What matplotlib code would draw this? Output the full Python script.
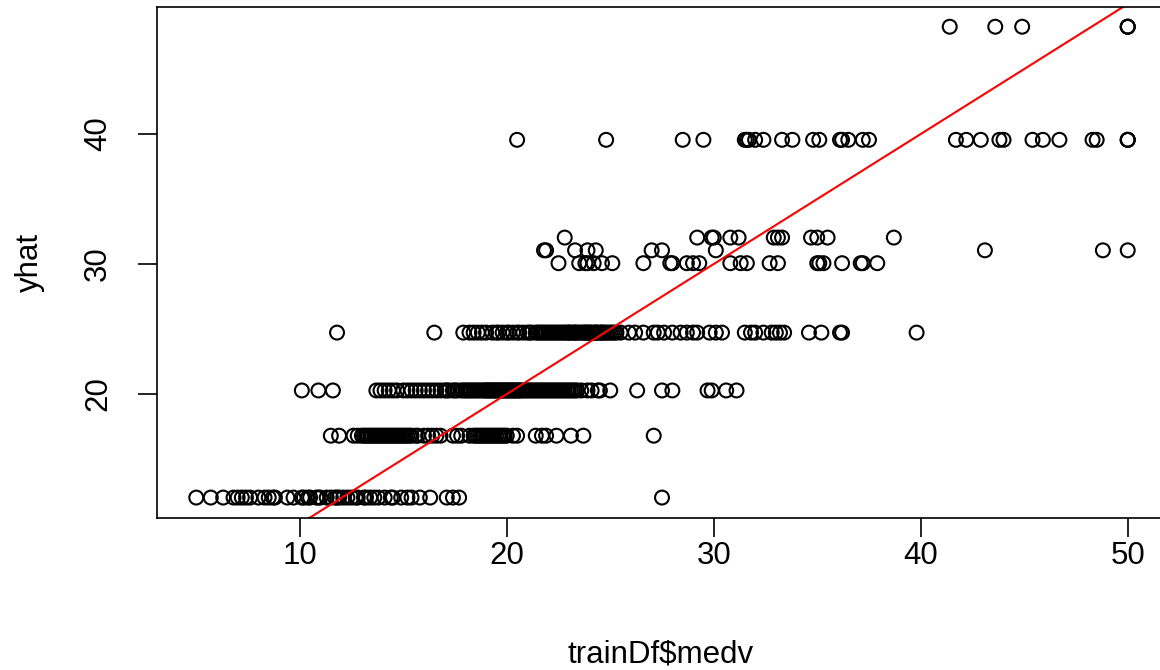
import matplotlib
matplotlib.use("Agg")
import matplotlib.pyplot as plt

plt.rcParams['font.family'] = ['Liberation Sans', 'DejaVu Sans']

# predicted levels (yhat) and the medv values that fall on each level
lvl_12 = 12.03
medv_12 = [5.0, 5.7, 6.3, 6.8, 7.0, 7.2, 7.4, 7.6, 8.0, 8.3, 8.5, 8.7, 8.8, 9.4, 9.7,
           10.1, 10.2, 10.4, 10.5, 10.8, 10.9, 11.0, 11.3, 11.5, 11.7, 11.8, 11.9,
           12.1, 12.3, 12.5, 12.7, 12.8, 13.1, 13.2, 13.4, 13.6, 13.8, 14.1, 14.4,
           14.5, 14.9, 15.2, 15.4, 15.8, 16.3, 17.1, 17.4, 17.7, 27.5]

lvl_16 = 16.79
medv_16 = [11.5, 11.9, 12.6, 12.8, 13.0, 13.1, 13.2, 13.3, 13.4, 13.5, 13.6, 13.7,
           13.8, 13.9, 14.0, 14.1, 14.2, 14.3, 14.4, 14.5, 14.6, 14.7, 14.8, 14.9,
           15.0, 15.1, 15.2, 15.3, 15.4, 15.6, 15.7, 16.0, 16.2, 16.4, 16.6, 16.8,
           17.4, 17.6, 17.8, 18.2, 18.4, 18.5, 18.6, 18.7, 18.8, 18.9, 19.0, 19.1,
           19.2, 19.3, 19.4, 19.5, 19.6, 19.7, 19.8, 19.9, 20.0, 20.3, 20.5, 21.4,
           21.7, 21.9, 22.4, 23.1, 23.7, 27.1]

lvl_20 = 20.27
medv_20 = [10.1, 10.9, 11.6, 13.7, 13.9, 14.1, 14.3, 14.5, 14.7, 15.0, 15.2, 15.4,
           15.6, 15.8, 16.0, 16.2, 16.4, 16.6, 16.8, 17.0, 17.1, 17.2, 17.4, 17.5,
           17.6, 17.8, 17.9, 18.0, 18.1, 18.2, 18.3, 18.4, 18.5, 18.6, 18.7, 18.8,
           18.9, 19.0, 19.0, 19.1, 19.2, 19.2, 19.3, 19.4, 19.4, 19.5, 19.6, 19.6,
           19.7, 19.8, 19.8, 19.9, 20.0, 20.0, 20.1, 20.2, 20.2, 20.3, 20.4, 20.4,
           20.5, 20.6, 20.6, 20.7, 20.8, 20.9, 21.0, 21.1, 21.2, 21.3, 21.4, 21.5,
           21.6, 21.7, 21.8, 21.9, 22.0, 22.1, 22.2, 22.3, 22.4, 22.5, 22.6, 22.7,
           22.8, 22.9, 23.0, 23.1, 23.2, 23.3, 23.4, 23.6, 23.9, 24.1, 24.4, 24.5,
           25.0, 26.3, 27.5, 28.0, 29.7, 29.9, 30.6, 31.1]

lvl_24 = 24.72
medv_24 = [11.8, 16.5, 17.9, 18.2, 18.4, 18.6, 18.8, 19.0, 19.3, 19.5, 19.6, 19.8,
           20.0, 20.1, 20.3, 20.5, 20.6, 20.8, 21.0, 21.1, 21.2, 21.4, 21.5, 21.6,
           21.7, 21.8, 21.9, 22.0, 22.1, 22.2, 22.3, 22.4, 22.5, 22.6, 22.7, 22.8,
           22.9, 23.0, 23.0, 23.1, 23.2, 23.3, 23.3, 23.4, 23.5, 23.6, 23.7, 23.8,
           23.8, 23.9, 24.0, 24.0, 24.1, 24.2, 24.3, 24.3, 24.4, 24.5, 24.6, 24.6,
           24.7, 24.8, 24.9, 25.0, 25.1, 25.2, 25.3, 25.5, 25.9, 26.2, 26.6, 27.1,
           27.3, 27.6, 28.0, 28.4, 28.7, 29.0, 29.2, 29.8, 30.1, 30.4, 31.5, 31.8,
           32.0, 32.4, 32.8, 33.0, 33.2, 33.4, 34.6, 35.2, 36.1, 36.2, 39.8]

lvl_30 = 30.06
medv_30 = [22.5, 23.5, 23.8, 23.9, 24.2, 24.6, 25.1, 26.6, 27.9, 28.0, 28.7, 29.0,
           29.3, 30.8, 31.3, 31.6, 32.7, 33.1, 35.0, 35.1, 35.3, 36.2, 37.1, 37.2,
           37.9]

lvl_31 = 31.05
medv_31 = [21.8, 21.9, 23.3, 23.9, 24.3, 27.0, 27.5, 30.1, 43.1, 48.8, 50.0]

lvl_32 = 32.03
medv_32 = [22.8, 29.2, 29.9, 30.0, 30.8, 31.2, 32.9, 33.1, 33.3, 34.7, 35.0, 35.5,
           38.7]

lvl_39 = 39.55
medv_39 = [20.5, 24.8, 28.5, 29.5, 31.5, 31.6, 31.7, 32.0, 32.4, 33.3, 33.8, 34.8,
           35.1, 36.1, 36.2, 36.5, 37.2, 37.5, 41.7, 42.2, 42.9, 43.8, 44.0, 45.4,
           45.9, 46.7, 48.3, 48.5, 50.0, 50.0, 50.0]

lvl_48 = 48.25
medv_48 = [41.4, 43.6, 44.9, 50.0, 50.0, 50.0]

groups = [(lvl_12, medv_12), (lvl_16, medv_16), (lvl_20, medv_20), (lvl_24, medv_24),
          (lvl_30, medv_30), (lvl_31, medv_31), (lvl_32, medv_32), (lvl_39, medv_39),
          (lvl_48, medv_48)]

medv = []
yhat = []
for lvl, vals in groups:
    medv += vals
    yhat += [lvl] * len(vals)

fig = plt.figure(figsize=(11.6, 6.7), dpi=100)
ax = fig.add_axes([0.1353, 0.2269, 0.869, 0.7627])

ax.scatter(medv, yhat, s=100, facecolors='none', edgecolors='black', linewidths=1.5)
# y = x reference line
ax.axline((0, 0), slope=1, color='red', lw=1.5)

ax.set_xlim(3.1, 51.8)
ax.set_ylim(10.46, 49.77)
ax.set_xticks([10, 20, 30, 40, 50])
ax.set_yticks([20, 30, 40])

for s in ax.spines.values():
    s.set_linewidth(1.2)
ax.tick_params(axis='both', length=13.5, width=1.2, labelsize=22.5)
ax.tick_params(axis='x', pad=3)
ax.tick_params(axis='y', pad=18)
for lab in ax.get_yticklabels():
    lab.set_rotation(90)
    lab.set_va('center')

ax.set_xlabel('trainDf$medv', fontsize=22.5, va='center')
ax.set_ylabel('yhat', fontsize=22.5, va='center')
ax.xaxis.set_label_coords(0.5, -0.268)
ax.yaxis.set_label_coords(-0.126, 0.5)

fig.savefig('out.png', dpi=100)
